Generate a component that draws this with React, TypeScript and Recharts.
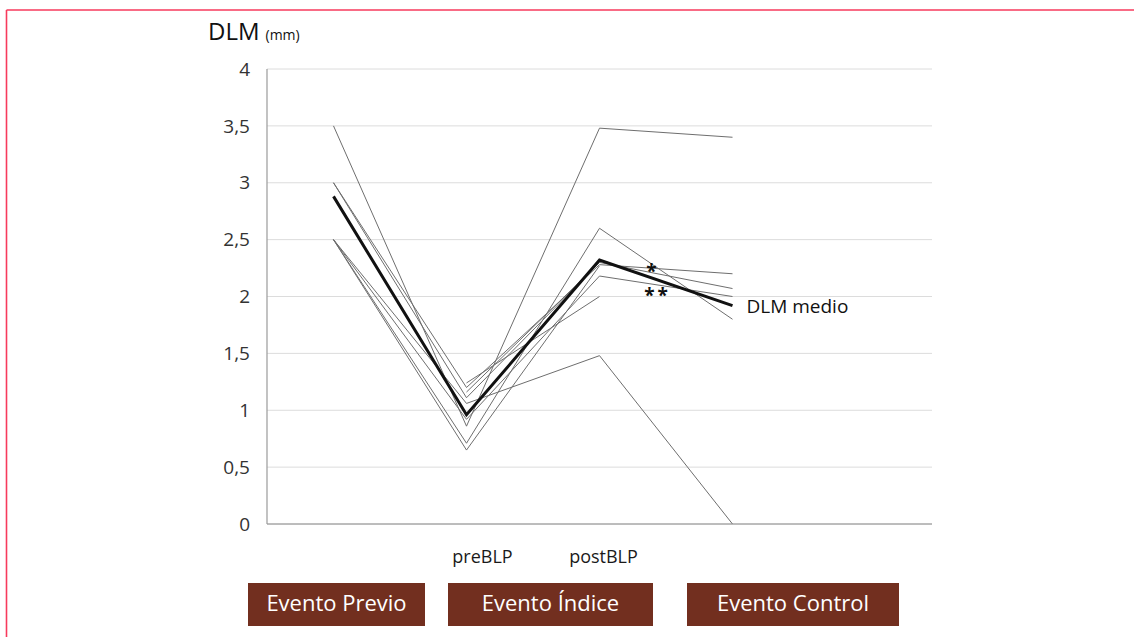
import React from 'react';
import { LineChart, Line, XAxis, YAxis, CartesianGrid, ReferenceDot } from 'recharts';

const categories = ['Evento Previo', 'preBLP', 'postBLP', 'Evento Control', ''];
const xTickLabels = ['', 'preBLP', 'postBLP', '', ''];
const eventLabels = ['Evento Previo', 'Evento Índice', 'Evento Control'];
const yTicks = [0, 0.5, 1, 1.5, 2, 2.5, 3, 3.5, 4];

const patient1 = [3.5, 0.86, 3.48, 3.4, null];
const patient2 = [3.0, 1.2, 2.28, 2.2, null];
const patient3 = [3.0, 1.11, 2.3, 2.07, null];
const patient4 = [2.5, 0.65, 2.27, null, null];
const patient5 = [2.5, 0.71, 2.6, 1.8, null];
const patient6 = [2.5, 1.06, 1.48, 0, null];
const patient7 = [null, 1.24, 2.0, null, null];
const patient8 = [2.5, 0.92, 2.18, 2.0, null];
const patient9 = [null, 1.16, 2.3, null, null];
const meanValues = [2.88, 0.96, 2.32, 1.92, null];

const patients = [patient1, patient2, patient3, patient4, patient5, patient6, patient7, patient8, patient9];

const data = categories.map((c, i) => {
  const row: any = { cat: c, mean: meanValues[i] };
  patients.forEach((p, j) => {
    row['p' + j] = p[i];
  });
  return row;
});

const FONT = '"Open Sans", "Noto Sans", sans-serif';
const BROWN = '#722f1f';

const XTick = (props: any) => {
  const { x, y, index } = props;
  const label = xTickLabels[index];
  if (!label) return null;
  const dx = index === 1 ? 16 : 4;
  return (
    <text x={x + dx} y={y + 39} textAnchor="middle" fontSize={18} fill="#1a1a1a" fontFamily={FONT}>
      {label}
    </text>
  );
};

const boxes = [
  { x: 248, w: 177 },
  { x: 448, w: 205 },
  { x: 687, w: 212 },
];

const markLabel = (text: string, dx: number, dy: number, anchor: string, size: number, weight: number, spacing = 0) => (p: any) => {
  const vb = p.viewBox;
  return (
    <text
      x={vb.x + vb.width / 2 + dx}
      y={vb.y + vb.height / 2 + dy}
      textAnchor={anchor}
      fontSize={size}
      fontWeight={weight}
      letterSpacing={spacing}
      fill="#111"
      fontFamily={FONT}
    >
      {text}
    </text>
  );
};

export default function App() {
  return (
    <div style={{ position: 'absolute', left: 0, top: 0, width: 1134, height: 637, background: '#fff' }}>
      <LineChart
        width={1134}
        height={637}
        data={data}
        margin={{ top: 69, right: 202, bottom: 53, left: 0 }}
      >
        <CartesianGrid horizontal vertical={false} stroke="#dcdcdc" strokeWidth={1} />
        <XAxis
          dataKey="cat"
          height={60}
          padding={{ left: 66.5, right: 66.5 }}
          axisLine={{ stroke: '#8c8c8c', strokeWidth: 1.2 }}
          tickLine={false}
          tickSize={0}
          tickMargin={0}
          tick={<XTick />}
          interval={0}
        />
        <YAxis
          width={267}
          domain={[0, 4]}
          ticks={yTicks}
          axisLine={{ stroke: '#9a9a9a', strokeWidth: 1.2 }}
          tickLine={false}
          tickSize={0}
          tickMargin={17}
          tickFormatter={(v: number) => String(v).replace('.', ',')}
          tick={{ fontSize: 19, fill: '#333', fontFamily: FONT }}
        />
        {patients.map((_, j) => (
          <Line
            key={j}
            dataKey={'p' + j}
            stroke="#6e6e6e"
            strokeWidth={1}
            dot={false}
            activeDot={false}
            isAnimationActive={false}
            connectNulls={false}
          />
        ))}
        <Line
          dataKey="mean"
          stroke="#111"
          strokeWidth={3}
          dot={false}
          activeDot={false}
          isAnimationActive={false}
        />
        <ReferenceDot
          x="Evento Control"
          y={1.92}
          r={1}
          fill="none"
          stroke="none"
          label={{ content: markLabel('DLM medio', 14, 7, 'start', 19, 400) }}
        />
        <ReferenceDot
          x="postBLP"
          y={2.2}
          r={1}
          fill="none"
          stroke="none"
          label={{ content: markLabel('*', 52, 4, 'middle', 19, 700) }}
        />
        <ReferenceDot
          x="postBLP"
          y={2.0}
          r={1}
          fill="none"
          stroke="none"
          label={{ content: markLabel('**', 58, 5, 'middle', 19, 700, 3) }}
        />
      </LineChart>
      <svg width={1134} height={637} style={{ position: 'absolute', left: 0, top: 0, pointerEvents: 'none' }}>
        <line x1={6.5} y1={10} x2={1134} y2={10} stroke="#f73a5c" strokeWidth={1.6} />
        <line x1={6.5} y1={10} x2={6.5} y2={637} stroke="#f73a5c" strokeWidth={1.6} />
        <text x={208} y={40} fontSize={24} fill="#111" fontFamily={FONT}>
          DLM
          <tspan dx={6} fontSize={14}>(mm)</tspan>
        </text>
        {boxes.map((b, i) => (
          <g key={i}>
            <rect x={b.x} y={583} width={b.w} height={43} fill={BROWN} />
            <text x={b.x + b.w / 2} y={611} textAnchor="middle" fontSize={22} fill="#fff" fontFamily={FONT}>
              {eventLabels[i]}
            </text>
          </g>
        ))}
      </svg>
    </div>
  );
}
